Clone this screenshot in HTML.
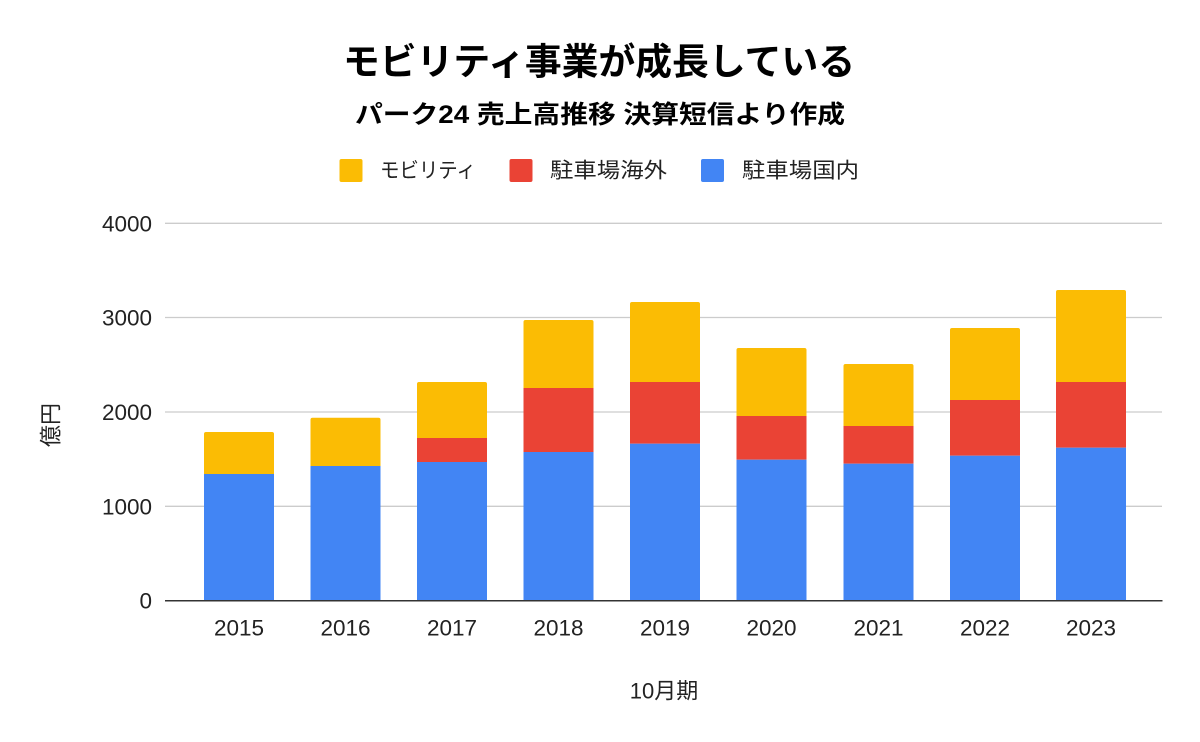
<!DOCTYPE html>
<html><head><meta charset="utf-8"><style>
html,body{margin:0;padding:0;background:#fff;}
svg{display:block;}
text{font-family:"Liberation Sans","Noto Sans CJK JP",sans-serif;}
</style></head><body>
<svg width="1200" height="742" viewBox="0 0 1200 742" xmlns="http://www.w3.org/2000/svg">
<rect width="1200" height="742" fill="#fff"/>
<!-- title -->
<text x="343" y="62" font-size="37" font-weight="bold" fill="#000" dominant-baseline="central" textLength="512" lengthAdjust="spacingAndGlyphs">モビリティ事業が成長している</text>
<text x="355" y="115" font-size="25" font-weight="bold" fill="#000" dominant-baseline="central" textLength="490" lengthAdjust="spacingAndGlyphs">パーク24 売上高推移 決算短信より作成</text>
<!-- legend -->
<rect x="339.5" y="159" width="23" height="23" rx="2" fill="#FBBC04"/>
<text x="380" y="171" font-size="21" fill="#222" dominant-baseline="central" textLength="96" lengthAdjust="spacingAndGlyphs">モビリティ</text>
<rect x="509.5" y="159" width="23" height="23" rx="2" fill="#EA4335"/>
<text x="550" y="171" font-size="21" fill="#222" dominant-baseline="central" textLength="117" lengthAdjust="spacingAndGlyphs">駐車場海外</text>
<rect x="701" y="159" width="23" height="23" rx="2" fill="#4285F4"/>
<text x="742" y="171" font-size="21" fill="#222" dominant-baseline="central" textLength="117" lengthAdjust="spacingAndGlyphs">駐車場国内</text>
<!-- gridlines -->
<g stroke="#cccccc" stroke-width="1.3">
<line x1="165" y1="223.3" x2="1162" y2="223.3"/>
<line x1="165" y1="317.5" x2="1162" y2="317.5"/>
<line x1="165" y1="412" x2="1162" y2="412"/>
<line x1="165" y1="506.3" x2="1162" y2="506.3"/>
</g>
<!-- y tick labels -->
<g font-size="22.5" fill="#222" text-anchor="end" dominant-baseline="central">
<text x="152" y="224">4000</text>
<text x="152" y="318">3000</text>
<text x="152" y="412.5">2000</text>
<text x="152" y="507">1000</text>
<text x="152" y="601">0</text>
</g>
<!-- bars -->
<g>
<!-- 2015 -->
<path d="M204 474 V434 Q204 432 206 432 H272 Q274 432 274 434 V474 Z" fill="#FBBC04"/>
<rect x="204" y="474" width="70" height="126.5" fill="#4285F4"/>
<!-- 2016 -->
<path d="M310.5 466 V419.7 Q310.5 417.7 312.5 417.7 H378.5 Q380.5 417.7 380.5 419.7 V466 Z" fill="#FBBC04"/>
<rect x="310.5" y="466" width="70" height="134.5" fill="#4285F4"/>
<!-- 2017 -->
<path d="M417 438 V384 Q417 382 419 382 H485 Q487 382 487 384 V438 Z" fill="#FBBC04"/>
<rect x="417" y="438" width="70" height="24" fill="#EA4335"/>
<rect x="417" y="462" width="70" height="138.5" fill="#4285F4"/>
<!-- 2018 -->
<path d="M523.5 388 V322 Q523.5 320 525.5 320 H591.5 Q593.5 320 593.5 322 V388 Z" fill="#FBBC04"/>
<rect x="523.5" y="388" width="70" height="64" fill="#EA4335"/>
<rect x="523.5" y="452" width="70" height="148.5" fill="#4285F4"/>
<!-- 2019 -->
<path d="M630 382 V304 Q630 302 632 302 H698 Q700 302 700 304 V382 Z" fill="#FBBC04"/>
<rect x="630" y="382" width="70" height="61.7" fill="#EA4335"/>
<rect x="630" y="443.7" width="70" height="156.8" fill="#4285F4"/>
<!-- 2020 -->
<path d="M736.5 416 V350 Q736.5 348 738.5 348 H804.5 Q806.5 348 806.5 350 V416 Z" fill="#FBBC04"/>
<rect x="736.5" y="416" width="70" height="43.7" fill="#EA4335"/>
<rect x="736.5" y="459.7" width="70" height="140.8" fill="#4285F4"/>
<!-- 2021 -->
<path d="M843.5 426 V366 Q843.5 364 845.5 364 H911.5 Q913.5 364 913.5 366 V426 Z" fill="#FBBC04"/>
<rect x="843.5" y="426" width="70" height="37.7" fill="#EA4335"/>
<rect x="843.5" y="463.7" width="70" height="136.8" fill="#4285F4"/>
<!-- 2022 -->
<path d="M950 400 V330 Q950 328 952 328 H1018 Q1020 328 1020 330 V400 Z" fill="#FBBC04"/>
<rect x="950" y="400" width="70" height="55.7" fill="#EA4335"/>
<rect x="950" y="455.7" width="70" height="144.8" fill="#4285F4"/>
<!-- 2023 -->
<path d="M1056 382 V292 Q1056 290 1058 290 H1124 Q1126 290 1126 292 V382 Z" fill="#FBBC04"/>
<rect x="1056" y="382" width="70" height="65.7" fill="#EA4335"/>
<rect x="1056" y="447.7" width="70" height="152.8" fill="#4285F4"/>
</g>
<!-- baseline -->
<line x1="165" y1="600.8" x2="1162.5" y2="600.8" stroke="#333" stroke-width="1.5"/>
<!-- x tick labels -->
<g font-size="22.5" fill="#222" text-anchor="middle" dominant-baseline="central">
<text x="239" y="628">2015</text>
<text x="345.5" y="628">2016</text>
<text x="452" y="628">2017</text>
<text x="558.5" y="628">2018</text>
<text x="665" y="628">2019</text>
<text x="771.5" y="628">2020</text>
<text x="878.5" y="628">2021</text>
<text x="985" y="628">2022</text>
<text x="1091" y="628">2023</text>
</g>
<!-- axis titles -->
<text x="664" y="691" font-size="22" fill="#222" text-anchor="middle" dominant-baseline="central">10月期</text>
<text x="51" y="425" font-size="22" fill="#222" text-anchor="middle" dominant-baseline="central" transform="rotate(-90 51 425)">億円</text>
</svg>
</body></html>
